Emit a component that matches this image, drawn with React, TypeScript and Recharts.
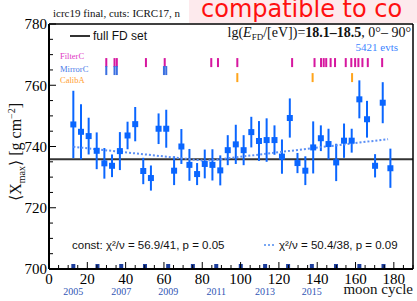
import { ComposedChart, Scatter, ErrorBar, XAxis, YAxis, ReferenceLine } from 'recharts'

// <Xmax> per 4 moon cycles, 18.1 < lg E < 18.5
const moonCycle = [12.7, 16.7, 20.7, 24.9, 28.9, 32.9, 37.0, 41.0, 45.0, 49.2, 53.2, 57.2, 61.2, 65.3, 69.1, 73.3, 77.3, 81.3, 85.3, 89.4, 93.3, 97.5, 101.6, 105.6, 109.6, 113.6, 117.7, 121.6, 125.7, 129.7, 133.8, 137.9, 141.9, 145.9, 149.9, 154.0, 158.0, 162.0, 166.0, 170.2, 174.2, 178.2]
const xmaxMean = [747.2, 744.8, 743.4, 738.6, 734.5, 733.7, 738.5, 743.6, 747.3, 732.0, 729.7, 745.8, 745.8, 732.1, 740.0, 734.0, 731.0, 734.3, 734.0, 732.2, 738.8, 740.7, 738.8, 744.7, 741.8, 742.1, 742.1, 736.7, 749.3, 734.6, 732.1, 739.7, 742.7, 740.8, 734.8, 741.9, 741.9, 755.4, 748.9, 733.7, 754.3, 732.9]
const xmaxErr = [11, 9, 6, 6, 5, 3.7, 6.2, 4.5, 5.6, 4.3, 4.1, 5, 6.2, 4.7, 5.7, 5.2, 3.6, 4.7, 5.1, 4.9, 4.9, 6.4, 4.9, 5, 6.5, 7.1, 4.8, 5.6, 6.4, 3.3, 4.7, 8.5, 4.2, 5, 6.1, 5.6, 3.9, 6.2, 6, 3.8, 6.7, 6.4]

const constFit = 735.8
const brokenFitX = [12.7, 82, 177]
const brokenFitY = [739.9, 735.3, 742.4]

// detector changes
const filterC = [29.9, 34.2, 35.4, 50.6, 60.4, 84.7, 88.2, 98.3, 126.9, 138.6, 142.0, 143.4, 144.7, 147.0, 149.3, 154.9, 157.8, 159.8, 161.5, 163.6, 166.4, 173.9]
const mirrorC = [29.9, 34.2, 35.4, 60.0, 61.2]
const calibA = [98.3, 137.6, 158.2]

// start of each year in moon cycles
const yearCycle = [12.7, 25.3, 37.7, 50.1, 62.2, 75.1, 87.3, 100.1, 112.8, 124.8, 137.2, 149.8, 162.0, 174.6]
const yearOfCycle = [2005, 2006, 2007, 2008, 2009, 2010, 2011, 2012, 2013, 2014, 2015, 2016, 2017, 2018]
const labeledYears = [2005, 2007, 2009, 2011, 2013, 2015]

const xTicks = [0, 5, 10, 15, 20, 25, 30, 35, 40, 45, 50, 55, 60, 65, 70, 75, 80, 85, 90, 95, 100, 105, 110, 115, 120, 125, 130, 135, 140, 145, 150, 155, 160, 165, 170, 175, 180, 185, 190]
const yTicks = [700, 705, 710, 715, 720, 725, 730, 735, 740, 745, 750, 755, 760, 765, 770, 775, 780]

const points = moonCycle.map((x, i) => ({ x, y: xmaxMean[i], err: xmaxErr[i] }))
const fitPts = brokenFitX.map((x, i) => ({ x, y: brokenFitY[i] }))
const years = yearCycle.map((x, i) => ({
  x,
  y: 700,
  label: labeledYears.includes(yearOfCycle[i]) ? String(yearOfCycle[i]) : '',
}))

const SERIF = '"Liberation Serif", "DejaVu Serif", serif'
const SANS = '"Liberation Sans", Arial, sans-serif'
const BLUE = '#0a66ff'

const stripRow = (xs: number[], y: number) => xs.map(x => ({ x, y }))

function XTick({ x, y, payload }: any) {
  const v = payload.value
  const major = v % 20 === 0
  return (
    <g>
      <line x1={x} x2={x} y1={y} y2={y - (major ? 7 : 4)} stroke="#000" strokeWidth={1} />
      {major && v <= 180 && (
        <text x={x} y={y + 15} textAnchor="middle" fontSize={15} fontFamily={SERIF} fill="#000">{v}</text>
      )}
    </g>
  )
}

function YTick({ x, y, payload }: any) {
  const v = payload.value
  const major = v % 20 === 0
  return (
    <g>
      <line x1={x} x2={x + (major ? 7 : 4)} y1={y} y2={y} stroke="#000" strokeWidth={1} />
      {major && (
        <text x={x - 2} y={y} dy="0.35em" textAnchor="end" fontSize={15} fontFamily={SERIF} fill="#000">{v}</text>
      )}
    </g>
  )
}

const bar = (color: string) => ({ cx, cy }: any) => (
  <rect x={cx - 1} y={cy - 4.5} width={2} height={9} fill={color} />
)

function Overlay() {
  return (
    <svg width={417} height={301} style={{ position: 'absolute', left: 0, top: 0, pointerEvents: 'none' }}>
      <text x={53} y={16.5} fontSize={11} fontFamily={SERIF} fill="#111">icrc19 final, cuts: ICRC17, n</text>
      <rect x={189} y={0} width={228} height={23} fill="#fdeaed" />
      <text x={201} y={17} fontSize={24} fontFamily='"DejaVu Sans", sans-serif' fill="#ff1010">compatible to co</text>

      <text x={411} y={36.5} textAnchor="end" fontSize={14} fontFamily={SERIF} fill="#111">
        lg(<tspan fontStyle="italic">E</tspan>
        <tspan fontSize={9} dy={3}>FD</tspan>
        <tspan dy={-3}>/[eV])=</tspan>
        <tspan fontWeight="bold">18.1–18.5</tspan>, 0°– 90°
      </text>
      <text x={398} y={50.5} textAnchor="end" fontSize={11} fontFamily={SERIF} fill="#3d85ff">5421 evts</text>

      <line x1={70} x2={90} y1={36} y2={36} stroke="#333" strokeWidth={2} />
      <text x={93} y={40} fontSize={12} fontFamily={SANS} fill="#111">full FD set</text>

      <text x={60} y={59} fontSize={8.5} fontFamily={SERIF} fill="#e038c4">FilterC</text>
      <text x={60} y={72} fontSize={8.5} fontFamily={SERIF} fill="#4a7be8">MirrorC</text>
      <text x={60} y={82.5} fontSize={8.5} fontFamily={SERIF} fill="#ffa030">CalibA</text>

      <text x={72} y={249} fontSize={11.5} fontFamily={SANS} fill="#111">const: χ²/ν = 56.9/41, p = 0.05</text>
      <line x1={264} x2={276} y1={245} y2={245} stroke="#4d8af0" strokeWidth={1.5} strokeDasharray="2 2" />
      <text x={279} y={249} fontSize={11.5} fontFamily={SANS} fill="#111">χ²/ν = 50.4/38, p = 0.09</text>

      <text transform="translate(21,152) rotate(-90)" textAnchor="middle" fontSize={16} fontFamily={SERIF} fill="#111">
        ⟨X<tspan fontSize={10} dy={4}>max</tspan>
        <tspan dy={-4}>⟩ [g cm</tspan>
        <tspan fontSize={10} dy={-6}>−2</tspan>
        <tspan dy={6}>]</tspan>
      </text>
      <text x={413} y={294} textAnchor="end" fontSize={15} fontFamily={SERIF} fill="#111">moon cycle</text>
    </svg>
  )
}

export default function App() {
  return (
    <div style={{ position: 'absolute', left: 0, top: 0, width: 417, height: 301, background: '#fff', overflow: 'hidden' }}>
      <ComposedChart width={417} height={301} margin={{ top: 24, right: 4, bottom: 0, left: 0 }}>
        <XAxis
          type="number"
          dataKey="x"
          domain={[0, 190]}
          ticks={xTicks}
          interval={0}
          tickSize={0}
          tickMargin={0}
          tickLine={false}
          tick={<XTick />}
          height={32}
          axisLine={{ stroke: '#000', strokeWidth: 2 }}
        />
        <YAxis
          type="number"
          dataKey="y"
          domain={[700, 780]}
          ticks={yTicks}
          interval={0}
          tickSize={0}
          tickMargin={0}
          tickLine={false}
          tick={<YTick />}
          width={49}
          axisLine={{ stroke: '#000', strokeWidth: 2 }}
        />
        <ReferenceLine y={constFit} stroke="#333" strokeWidth={2} />
        <ReferenceLine y={780} stroke="#000" strokeWidth={1.5} />
        <ReferenceLine x={190} stroke="#000" strokeWidth={1.5} />
        <Scatter
          data={fitPts}
          line={{ stroke: '#5b8ff5', strokeWidth: 2, strokeDasharray: '2 2' }}
          shape={() => <g />}
          isAnimationActive={false}
        />
        <Scatter data={stripRow(filterC, 767.4)} shape={bar('#d6179f')} isAnimationActive={false} />
        <Scatter data={stripRow(mirrorC, 764.8)} shape={bar('#3b6fe0')} isAnimationActive={false} />
        <Scatter data={stripRow(calibA, 762.5)} shape={bar('#ffa41b')} isAnimationActive={false} />
        <Scatter
          data={years}
          isAnimationActive={false}
          shape={({ cx, cy, payload }: any) => (
            <g>
              <rect x={cx - 2} y={cy - 5} width={4} height={4} fill="#1b3d9c" />
              {payload.label && (
                <text x={cx} y={cy + 26} textAnchor="middle" fontSize={10} fontFamily={SERIF} fill="#2f55b5">{payload.label}</text>
              )}
            </g>
          )}
        />
        <Scatter
          data={points}
          isAnimationActive={false}
          shape={({ cx, cy }: any) => <rect x={cx - 3} y={cy - 3} width={6} height={6} fill={BLUE} />}
        >
          <ErrorBar dataKey="err" direction="y" width={0} stroke={BLUE} strokeWidth={2} isAnimationActive={false} />
        </Scatter>
      </ComposedChart>
      <Overlay />
    </div>
  )
}
